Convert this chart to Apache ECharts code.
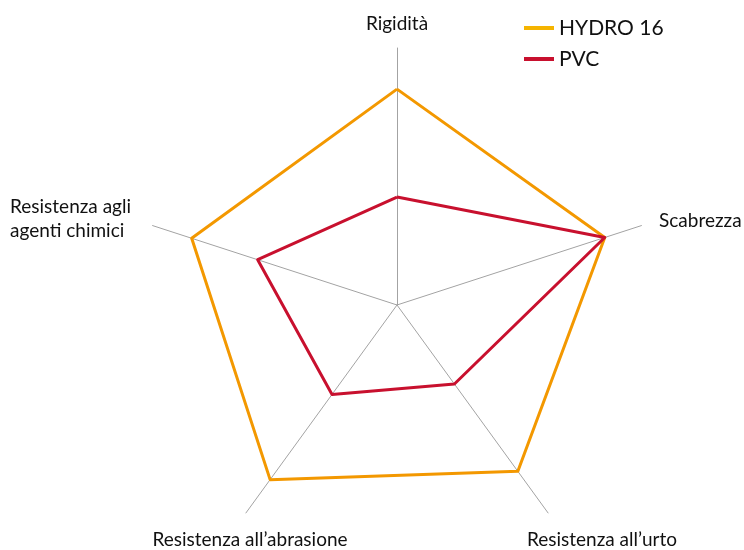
<!DOCTYPE html>
<html>
<head>
<meta charset="utf-8">
<script src="https://cdn.jsdelivr.net/npm/echarts@6/dist/echarts.min.js"></script>
<style>
  html, body { margin: 0; padding: 0; background: #fff; }
  #chart { width: 744px; height: 550px; }
</style>
</head>
<body>
<div id="chart"></div>
<script>
// indicatori in senso antiorario partendo dall'alto (ordine di ECharts)
const indicators = ['Rigidità', 'Resistenza agli\nagenti chimici', 'Resistenza all’abrasione', 'Resistenza all’urto', 'Scabrezza']
const hydroValues = [84, 84, 84, 80, 85]
const pvcValues = [42, 57, 43, 38, 85]
const seriesNames = ['HYDRO 16', 'PVC']

const FONT = 'Lato'
const TEXT_COLOR = '#111'

const chart = echarts.init(document.getElementById('chart'))

// etichette degli assi: posizione (stile) per ogni indicatore
const labelPos = [
  { x: 397, y: 24, align: 'center' },
  { x: 10, y: 219, align: 'left' },
  { x: 250, y: 540, align: 'center' },
  { x: 602, y: 540, align: 'center' },
  { x: 659, y: 221, align: 'left' },
]

const option = {
  animation: false,
  legend: {
    orient: 'vertical',
    left: 519,
    top: 12,
    icon: 'rect',
    itemWidth: 30,
    itemHeight: 4,
    itemGap: 9,
    textStyle: {
      fontFamily: FONT,
      fontSize: 21,
      lineHeight: 22,
      color: TEXT_COLOR,
    },
    data: [
      { name: seriesNames[0], itemStyle: { color: '#f5b400' } },
      { name: seriesNames[1], itemStyle: { color: '#c8102e' } },
    ],
  },
  radar: {
    center: [397, 305],
    radius: 257,
    shape: 'polygon',
    indicator: indicators.map(name => ({ name: name, max: 100 })),
    axisName: { show: false },
    splitNumber: 1,
    axisLine: { lineStyle: { color: '#a3a3a3', width: 1 } },
    splitLine: { show: false },
    splitArea: { show: false },
    axisTick: { show: false },
    axisLabel: { show: false },
  },
  series: [
    {
      type: 'radar',
      symbol: 'none',
      data: [
        {
          name: seriesNames[0],
          value: hydroValues,
          lineStyle: { color: '#f39800', width: 3 },
          itemStyle: { color: '#f39800' },
        },
        {
          name: seriesNames[1],
          value: pvcValues,
          lineStyle: { color: '#c8102e', width: 3 },
          itemStyle: { color: '#c8102e' },
        },
      ],
    },
  ],
  graphic: indicators.map((name, i) => ({
    type: 'text',
    x: labelPos[i].x,
    y: labelPos[i].y,
    style: {
      text: name,
      fontFamily: FONT,
      fontSize: 19,
      lineHeight: 24,
      fill: TEXT_COLOR,
      align: labelPos[i].align,
      verticalAlign: 'middle',
    },
  })),
}

chart.setOption(option)
</script>
</body>
</html>
